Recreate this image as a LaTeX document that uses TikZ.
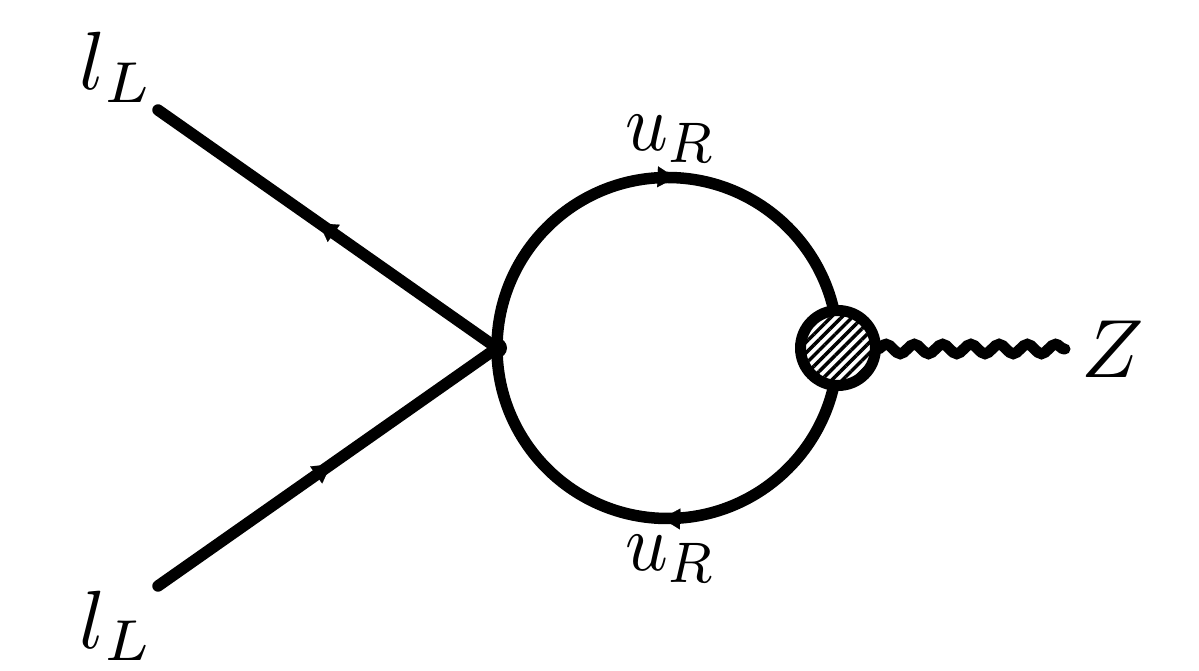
\documentclass[tikz,border=0pt]{standalone}
\usepackage{tikz}
\usetikzlibrary{
  arrows.meta,
  positioning,
  patterns.meta,
  decorations.markings,
  decorations.pathmorphing
}
\tikzset{
  fermion/.style = {
    draw=black, line width=0.23cm, line cap=round,
    postaction={decorate},
    decoration={markings,
      mark=at position #1 with {\arrow[line width=0.1pt]{Stealth[length=0.36cm, width=0.42cm, inset=0pt]}}}
  },
  fermion/.default = 0.5,
  boson/.style = {
    draw=black, line width=0.22cm, line cap=round,
    decorate, decoration={snake, segment length=0.565cm, amplitude=0.095cm, post length=0pt}
  },
  vertexdot/.style = {circle, fill=black, inner sep=0pt, minimum size=0.4cm},
  blob/.style = {
    circle, draw=black, line width=0.22cm, minimum size=1.5cm, inner sep=0pt,
    preaction={fill=white},
    pattern={Lines[angle=45, distance=0.15cm, line width=0.07cm]}
  },
  lbl/.style = {scale=4.7, inner sep=0pt},
  ulbl/.style = {xscale=4.25, yscale=4.65, inner sep=0pt},
}

\begin{document}
\begin{tikzpicture}
  \useasboundingbox (0,0) rectangle (23.98,13.42);

  \node[vertexdot] (vertex) at (9.94,6.46) {};
  \coordinate (legtop) at (3.16,11.22);
  \coordinate (legbot) at (3.16,1.70);
  \coordinate (zend) at (21.3,6.44);

  % Loop
  \draw[fermion=0.515] (vertex.center) arc[start angle=180, end angle=0, radius=3.41] coordinate (looptop);
  \draw[fermion=0.51] (looptop) arc[start angle=0, end angle=-180, radius=3.41];

  \node[blob] (form) at (looptop) {};

  % Legs
  \draw[fermion=0.525] (vertex.center) -- (legtop);
  \draw[fermion=0.51] (legbot) -- (vertex.center);
  \draw[boson] (form.east |- zend) -- (zend);

  % Labels
  \node[lbl] (ltop) at (2.33,12.07) {$l_L$};
  \node[lbl] (lbot) at (2.33,0.9) {$l_L$};
  \node[ulbl] (utop) at (13.42,10.64) {$u_R$};
  \node[ulbl] (ubot) at (13.42,2.24) {$u_R$};
  \node[lbl] (zlab) at (22.26,6.43) {$Z$};

\end{tikzpicture}
\end{document}
